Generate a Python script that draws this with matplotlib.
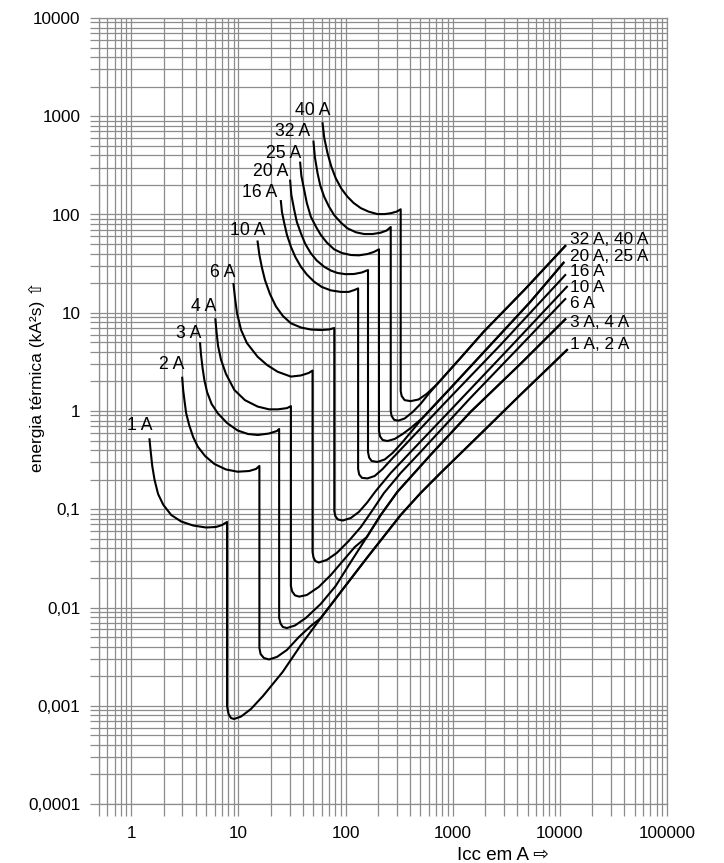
import numpy as np
import matplotlib
matplotlib.use("Agg")
import matplotlib.pyplot as plt
from matplotlib.ticker import FixedLocator, FixedFormatter, LogLocator, NullFormatter

# --- Axis ticks ---
X_TICKS = [1, 10, 100, 1000, 10000, 100000]
X_LABELS = ["1", "10", "100", "1000", "10000", "100000"]
Y_TICKS = [1e-4, 1e-3, 1e-2, 1e-1, 1, 10, 100, 1000, 10000]
Y_LABELS = ["0,0001", "0,001", "0,01", "0,1", "1", "10", "100", "1000", "10000"]

# --- Curves (Icc in A, energy in kA2s) ---
# own part of each curve: thermal zone, magnetic drop, start of rising branch
I_1A = [1.48, 1.52, 1.57, 1.65, 1.78, 1.99, 2.36, 2.92, 3.78, 4.99, 6.18, 7.04, 7.83,
        7.83, 8.09, 8.53, 9.10, 10.6, 13.1, 17.0, 25.9, 38.3]
E_1A = [0.515, 0.383, 0.276, 0.199, 0.143, 0.111, 0.0874, 0.0751, 0.0683, 0.0652, 0.0660, 0.0691, 0.0742,
        0.000994, 0.000824, 0.000750, 0.000733, 0.000777, 0.000927, 0.00126, 0.00221, 0.00415]

I_2A = [2.99, 3.05, 3.15, 3.25, 3.47, 3.78, 4.18, 4.89, 5.97, 7.66, 9.85, 12.6, 14.6, 15.7,
        15.7, 16.1, 17.3, 19.3, 22.9, 28.4, 36.7, 47.4]
E_2A = [2.18, 1.64, 1.24, 0.954, 0.720, 0.544, 0.433, 0.348, 0.289, 0.254, 0.241, 0.245, 0.257, 0.276,
        0.00387, 0.00336, 0.00306, 0.00296, 0.00314, 0.00370, 0.00501, 0.00648]

I_3A = [4.39, 4.48, 4.63, 4.81, 5.10, 5.62, 6.42, 7.83, 9.85, 12.3, 15.2, 19.3, 22.9, 24.0,
        24.0, 24.7, 26.0, 28.4, 33.7, 42.6, 58.8, 81.0, 112]
E_3A = [4.89, 3.72, 2.74, 2.07, 1.56, 1.18, 0.948, 0.755, 0.633, 0.583, 0.570, 0.590, 0.626, 0.656,
        0.00782, 0.00688, 0.00633, 0.00618, 0.00656, 0.00782, 0.0109, 0.0166, 0.0291]

I_4A = [6.10, 6.25, 6.46, 6.89, 7.66, 9.16, 11.5, 15.1, 19.3, 23.4, 28.4, 30.9,
        30.9, 31.7, 33.7, 36.9, 43.5, 56.3, 72.8, 94.2, 122]
E_4A = [8.58, 6.37, 4.59, 3.31, 2.38, 1.64, 1.29, 1.11, 1.04, 1.04, 1.07, 1.12,
        0.0166, 0.0146, 0.0133, 0.0129, 0.0134, 0.0162, 0.0214, 0.0297, 0.0413]

I_6A = [9.00, 9.30, 9.70, 10.6, 12.0, 15.1, 18.5, 23.2, 30.9, 38.3, 45.4, 49.2,
        49.2, 50.2, 52.2, 56.3, 66.8, 82.8, 107, 139, 179, 228, 327, 501, 1465, 4280, 11230]
E_6A = [19.6, 14.1, 9.94, 6.67, 4.92, 3.57, 2.94, 2.51, 2.24, 2.30, 2.44, 2.58,
        0.0367, 0.0323, 0.0297, 0.0287, 0.0305, 0.0359, 0.0475, 0.0660, 0.0983, 0.146, 0.234, 0.383,
        1.36, 4.59, 13.8]

I_10A = [15.1, 15.7, 16.6, 17.7, 19.7, 22.4, 26.0, 30.9, 38.3, 47.4, 58.8, 69.8, 78.5,
         78.5, 80.2, 84.6, 94.2, 112, 133, 158, 191, 264, 405, 954, 3450, 11650]
E_10A = [53.1, 38.7, 28.6, 21.5, 15.5, 11.6, 9.27, 7.81, 7.08, 6.75, 6.67, 6.75, 6.99,
         0.0960, 0.0854, 0.0787, 0.0768, 0.0815, 0.0938, 0.116, 0.153, 0.234, 0.383, 1.02, 4.48, 18.4]

I_16A = [24.9, 25.5, 26.8, 28.4, 30.9, 34.0, 38.3, 43.5, 50.9, 60.0, 72.8, 90.2, 107, 122, 131,
         131, 134, 142, 160, 187, 222, 275, 405, 954, 2790, 11230]
E_16A = [137, 106, 81.4, 61.8, 47.0, 36.9, 29.4, 24.5, 20.7, 18.3, 16.9, 16.3, 16.3, 17.1, 17.7,
         0.257, 0.226, 0.209, 0.206, 0.218, 0.257, 0.332, 0.519, 1.39, 4.70, 24.2]

I_20A = [30.4, 31.2, 33.2, 35.1, 38.3, 42.1, 47.4, 53.9, 63.1, 72.8, 84.1, 100, 120, 142, 162,
         162, 166, 175, 198, 232, 275, 341, 423]
E_20A = [221, 158, 111, 83.9, 64.4, 50.1, 40.3, 34.0, 29.4, 26.9, 25.4, 24.7, 24.8, 25.7, 27.2,
         0.383, 0.336, 0.310, 0.303, 0.321, 0.374, 0.484, 0.641]

I_25A = [37.7, 38.7, 41.1, 43.5, 47.4, 52.8, 58.8, 66.8, 78.2, 92.2, 112, 133, 160, 183, 205,
         205, 210, 222, 246, 287, 341, 405, 460]
E_25A = [337, 247, 178, 131, 95.0, 75.5, 61.8, 51.9, 44.2, 40.6, 38.7, 38.4, 39.6, 41.5, 44.2,
         0.626, 0.550, 0.507, 0.495, 0.519, 0.583, 0.671, 0.755]

I_32A = [50.2, 51.7, 54.8, 58.1, 63.1, 69.8, 78.2, 90.2, 104, 125, 149, 179, 213, 242, 264,
         264, 269, 284, 310, 356, 423, 501, 595]
E_32A = [551, 385, 263, 197, 152, 121, 98.8, 82.9, 72.4, 65.9, 63.3, 63.3, 65.3, 68.7, 74.6,
         1.00, 0.889, 0.814, 0.797, 0.839, 0.977, 1.18, 1.49]

I_40A = [61.0, 63.3, 67.9, 73.6, 81.0, 91.2, 104, 119, 139, 164, 198, 232, 264, 300, 327,
         327, 334, 356, 405, 480, 570]
E_40A = [848, 601, 420, 308, 234, 184, 152, 131, 116, 107, 101, 101, 103, 107, 113,
         1.60, 1.42, 1.29, 1.26, 1.31, 1.49]

# shared rising branches
I_BR_12 = [58.8, 90.2, 158, 327, 501, 770, 1815, 4280, 11650]
E_BR_12 = [0.00782, 0.0144, 0.0319, 0.0874, 0.146, 0.234, 0.583, 1.46, 4.18]
I_BR_34 = [158, 213, 304, 621, 1465, 4280, 11230]
E_BR_34 = [0.0522, 0.0874, 0.150, 0.357, 0.977, 3.01, 8.58]
I_BR_2025 = [523, 954, 2250, 5300, 10830]
E_BR_2025 = [0.849, 1.71, 4.70, 12.9, 32.3]
I_BR_3240 = [717, 1182, 1936, 4764, 11230]
E_BR_3240 = [1.88, 3.46, 6.37, 17.5, 47.8]

# --- Labels ---
LEFT_LABELS = ["1 A", "2 A", "3 A", "4 A", "6 A", "10 A", "16 A", "20 A", "25 A", "32 A", "40 A"]
LEFT_LABEL_I = [1.21, 2.36, 3.47, 4.73, 7.14, 12.2, 15.8, 20.1, 26.7, 32.1, 49.7]
LEFT_LABEL_E = [0.704, 2.94, 6.18, 11.7, 25.6, 69.5, 167, 273, 420, 696, 1131]

RIGHT_LABELS = ["32 A, 40 A", "20 A, 25 A", "16 A", "10 A", "6 A", "3 A, 4 A", "1 A, 2 A"]
RIGHT_LABEL_I = 12500
RIGHT_LABEL_E = [55.9, 37.8, 26.4, 18.2, 12.4, 7.92, 4.70]

GRID = "#8c8c8c"

plt.rcParams['font.family'] = ['Liberation Sans', 'DejaVu Sans']

fig = plt.figure(figsize=(7.24, 8.63), dpi=100)
ax = fig.add_axes([99 / 724, 1 - 804 / 863, 568 / 724, 786 / 863])
ax.set_xscale('log')
ax.set_yscale('log')
ax.set_xlim(0.5, 1e5)
ax.set_ylim(1e-4, 1e4)

ax.xaxis.set_major_locator(FixedLocator(X_TICKS))
ax.xaxis.set_major_formatter(FixedFormatter(X_LABELS))
ax.yaxis.set_major_locator(FixedLocator(Y_TICKS))
ax.yaxis.set_major_formatter(FixedFormatter(Y_LABELS))
for axis in (ax.xaxis, ax.yaxis):
    axis.set_minor_locator(LogLocator(base=10, subs=np.arange(2, 10), numticks=20))
    axis.set_minor_formatter(NullFormatter())

ax.grid(True, which='both', color=GRID, linewidth=0.9)
ax.set_axisbelow(True)
ax.tick_params(which='both', direction='out', color=GRID, width=0.9, labelsize=12.3)
ax.tick_params(axis='x', which='both', length=8.6, pad=7)
ax.tick_params(axis='y', which='both', length=6.5, pad=7)
for sp in ax.spines.values():
    sp.set_color(GRID)
    sp.set_linewidth(0.9)

# --- Curves ---
curves = [
    (I_1A, E_1A, I_BR_12, E_BR_12),
    (I_2A, E_2A, I_BR_12, E_BR_12),
    (I_3A, E_3A, I_BR_34, E_BR_34),
    (I_4A, E_4A, I_BR_34, E_BR_34),
    (I_6A, E_6A, [], []),
    (I_10A, E_10A, [], []),
    (I_16A, E_16A, [], []),
    (I_20A, E_20A, I_BR_2025, E_BR_2025),
    (I_25A, E_25A, I_BR_2025, E_BR_2025),
    (I_32A, E_32A, I_BR_3240, E_BR_3240),
    (I_40A, E_40A, I_BR_3240, E_BR_3240),
]
for i_own, e_own, i_br, e_br in curves:
    ax.plot(i_own + i_br, e_own + e_br, color='black', linewidth=1.5,
            solid_joinstyle='round', zorder=3)

for txt, xi, yi in zip(LEFT_LABELS, LEFT_LABEL_I, LEFT_LABEL_E):
    ax.text(xi, yi, txt, ha='center', va='center', fontsize=12.7, zorder=4)
for txt, yi in zip(RIGHT_LABELS, RIGHT_LABEL_E):
    ax.text(RIGHT_LABEL_I, yi, txt, ha='left', va='center', fontsize=12.4, zorder=4)

fig.text(503 / 724, 1 - 855 / 863, "Icc em A \u21e8", ha='center', va='center', fontsize=13.5)
fig.text(37 / 724, 1 - 377 / 863, "energia térmica (kA\u00b2s) \u21e7", ha='center', va='center',
         rotation=90, fontsize=12.5)

fig.savefig("out.png", dpi=100)
